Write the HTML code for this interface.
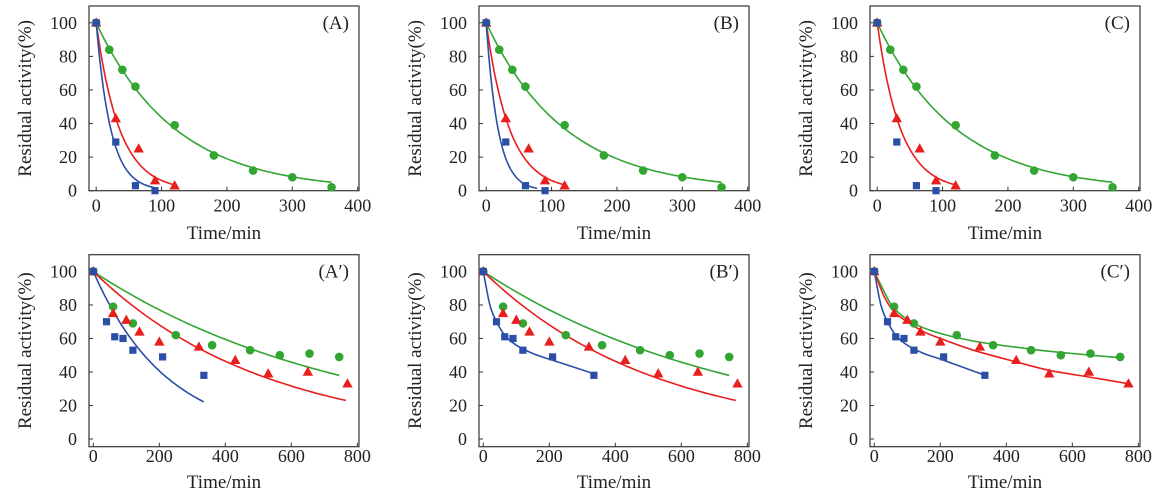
<!DOCTYPE html>
<html><head><meta charset="utf-8">
<style>
html,body{margin:0;padding:0;background:#fff;}
svg{display:block;}
svg text{font-family:"Liberation Serif","DejaVu Serif",serif;}
</style></head>
<body>
<svg id="fig" width="1166" height="500" viewBox="0 0 1166 500" xmlns="http://www.w3.org/2000/svg" font-family="Liberation Serif, DejaVu Serif, serif"></svg>
<script>
// ---------- data ----------
const topGreenX = [0,20,40,60,120,180,240,300,360];
const topGreenY = [100,84,72,62,39,21,12,8,2];
const topRedX = [0,30,65,90,120];
const topRedY = [100,43,25,6,3];
const topBlueX = [0,30,60,90];
const topBlueY = [100,29,3,0];
const fitKA = [0.0083,0.028,0.045];
const fitKB = [0.0083,0.028,0.055];
const fitKC = [0.0083,0.028,null];
const fitEndA = [360,120,90];
const fitEndB = [360,120,78];
const fitEndC = [360,120,0];

const botGreenX = [0,60,120,250,360,475,565,655,745];
const botGreenY = [100,79,69,62,56,53,50,51,49];
const botRedX = [0,60,100,140,200,320,430,530,650,770];
const botRedY = [100,75,71,64,58,55,47,39,40,33];
const botBlueX = [0,40,65,90,120,210,335];
const botBlueY = [100,70,61,60,53,49,38];
const fitKA2 = [0.0013,0.00192,0.0045];
const fitEndA2 = [745,765,335];
const fitKB2 = [0.0013,0.00192,null];
const fitEndB2 = [745,765,0];
const curveBBlueX = [0,20,40,65,100,150,210,335];
const curveBBlueY = [100,80,70,62,56,51,47,39];
const curveCGreenX = [0,30,60,120,200,300,400,500,600,745];
const curveCGreenY = [100,88,78,69,63,58.5,55.5,53,51,48.5];
const curveCRedX = [0,30,60,100,150,200,300,430,530,650,770];
const curveCRedY = [100,85,76,70,64,60,53,46,41,37,33];
const curveCBlueX = [0,20,40,65,100,150,210,335];
const curveCBlueY = [100,80,70,62,56,51,47,38];

const topXTicks = [0,100,200,300,400];
const botXTicks = [0,200,400,600,800];
const yTicks = [0,20,40,60,80,100];

// ---------- drawing ----------
const NS = "http://www.w3.org/2000/svg";
const svg = document.getElementById('fig');
const COL = {green:'#33a532', red:'#e81f1d', blue:'#2b4ea6'};
const FF = 'Liberation Serif, DejaVu Serif, serif';
function mk(tag, attrs, parent){
  const e = document.createElementNS(NS, tag);
  for (const k in attrs) e.setAttribute(k, attrs[k]);
  if (tag==='text') e.setAttribute('font-family', FF);
  (parent||svg).appendChild(e);
  return e;
}
function expCurve(k, end, n){
  const xs=[], ys=[];
  for(let i=0;i<=n;i++){const t=end*i/n; xs.push(t); ys.push(100*Math.exp(-k*t));}
  return [xs,ys];
}
function smoothPath(px, py){
  let d = 'M'+px[0].toFixed(1)+','+py[0].toFixed(1);
  for(let i=0;i<px.length-1;i++){
    const x0=px[Math.max(0,i-1)], y0=py[Math.max(0,i-1)];
    const x1=px[i], y1=py[i], x2=px[i+1], y2=py[i+1];
    const x3=px[Math.min(px.length-1,i+2)], y3=py[Math.min(px.length-1,i+2)];
    const c1x=x1+(x2-x0)/6, c1y=y1+(y2-y0)/6, c2x=x2-(x3-x1)/6, c2y=y2-(y3-y1)/6;
    d+=' C'+c1x.toFixed(1)+','+c1y.toFixed(1)+' '+c2x.toFixed(1)+','+c2y.toFixed(1)+' '+x2.toFixed(1)+','+y2.toFixed(1);
  }
  return d;
}

function panel(cfg){
  const g = mk('g',{});
  
  
  const L=cfg.left, R=cfg.left+270, T=cfg.top, B=cfg.bottom;
  const sx = v => L + (v - cfg.xmin)/(cfg.xmax-cfg.xmin)*(R-L);
  const sy = v => B - (v - cfg.ymin)/(cfg.ymax-cfg.ymin)*(B-T);
  const fr = mk('rect',{x:L,y:T,width:R-L,height:B-T,fill:'none',stroke:'#333',"stroke-width":1.2},g);
  
  
  cfg.xticks.forEach(v=>{
    const x=sx(v);
    const tk = mk('line',{x1:x,x2:x,y1:B,y2:B-4,stroke:'#333',"stroke-width":1},g);
    
    
    const t = mk('text',{x:x,y:B+cfg.tickOff,"text-anchor":"middle","font-size":18,fill:'#222'},g);
    
    
    t.textContent=v;
  });
  yTicks.forEach(v=>{
    const y=sy(v);
    const tk = mk('line',{x1:L,x2:L+4,y1:y,y2:y,stroke:'#333',"stroke-width":1},g);
    
    
    const t = mk('text',{x:L-12,y:y+6,"text-anchor":"end","font-size":18,fill:'#222'},g);
    
    
    t.textContent=v;
  });
  const xt = mk('text',{x:(L+R)/2,y:cfg.titleY,"text-anchor":"middle","font-size":19,fill:'#222'},g);
  
  
  xt.textContent='Time/min';
  const cy=(T+B)/2, tx=L-58;
  const yt = mk('text',{x:tx,y:cy,"text-anchor":"middle","font-size":19,fill:'#222',transform:'rotate(-90 '+tx+' '+cy+')'},g);
  
  
  yt.textContent='Residual activity(%)';
  const pl = mk('text',{x:R-10,y:T+23,"text-anchor":"end","font-size":19,fill:'#222'},g);
  
  
  pl.textContent=cfg.label;
  cfg.curves.forEach(c=>{
    if(!c.xs) return;
    const p = mk('path',{d:smoothPath(c.xs.map(sx), c.ys.map(sy)),fill:'none',stroke:COL[c.color],"stroke-width":1.6},g);
    
    
  });
  cfg.series.forEach(s=>{
    s.xs.forEach((xv,i)=>{
      const x=sx(xv), y=sy(s.ys[i]);
      let m;
      if(s.shape==='circle') m=mk('circle',{cx:x,cy:y,r:4.3,fill:COL.green},g);
      else if(s.shape==='tri') m=mk('polygon',{points:(x)+','+(y-5.5)+' '+(x-5.2)+','+(y+3.8)+' '+(x+5.2)+','+(y+3.8),fill:COL.red},g);
      else m=mk('rect',{x:x-3.6,y:y-3.6,width:7.2,height:7.2,fill:COL.blue},g);
      
      
    });
  });
}

function expSet(ks, ends, colors){
  return ks.map((k,i)=>{
    if(k===null) return {color:colors[i]};
    const c=expCurve(k, ends[i], 40);
    return {xs:c[0], ys:c[1], color:colors[i]};
  });
}
const cols=['green','red','blue'];
const topSeries=[
  {xs:topGreenX,ys:topGreenY,shape:'circle',color:'green'},
  {xs:topRedX,ys:topRedY,shape:'tri',color:'red'},
  {xs:topBlueX,ys:topBlueY,shape:'sq',color:'blue'}];
const botSeries=[
  {xs:botGreenX,ys:botGreenY,shape:'circle',color:'green'},
  {xs:botRedX,ys:botRedY,shape:'tri',color:'red'},
  {xs:botBlueX,ys:botBlueY,shape:'sq',color:'blue'}];
const lefts=[89,479,870];
const topBase={top:6,bottom:190.7,xmin:-11,xmax:402,ymin:0,ymax:110,xticks:topXTicks,tickOff:21,titleY:239};
const botBase={top:254.7,bottom:446.7,xmin:-13,xmax:805,ymin:-4.6,ymax:110,xticks:botXTicks,tickOff:15.5,titleY:488};

panel(Object.assign({},topBase,{id:'A',label:'(A)',left:lefts[0],series:topSeries,curves:expSet(fitKA,fitEndA,cols)}));
panel(Object.assign({},topBase,{id:'B',label:'(B)',left:lefts[1],series:topSeries,curves:expSet(fitKB,fitEndB,cols)}));
panel(Object.assign({},topBase,{id:'C',label:'(C)',left:lefts[2],series:topSeries,curves:expSet(fitKC,fitEndC,cols)}));
panel(Object.assign({},botBase,{id:'A-prime',label:'(A\u2032)',left:lefts[0],series:botSeries,curves:expSet(fitKA2,fitEndA2,cols)}));
const bCurves=expSet(fitKB2,fitEndB2,cols); bCurves[2]={xs:curveBBlueX,ys:curveBBlueY,color:'blue'};
panel(Object.assign({},botBase,{id:'B-prime',label:'(B\u2032)',left:lefts[1],series:botSeries,curves:bCurves}));
panel(Object.assign({},botBase,{id:'C-prime',label:'(C\u2032)',left:lefts[2],series:botSeries,curves:[
  {xs:curveCGreenX,ys:curveCGreenY,color:'green'},
  {xs:curveCRedX,ys:curveCRedY,color:'red'},
  {xs:curveCBlueX,ys:curveCBlueY,color:'blue'}]}));
</script>
</body></html>
